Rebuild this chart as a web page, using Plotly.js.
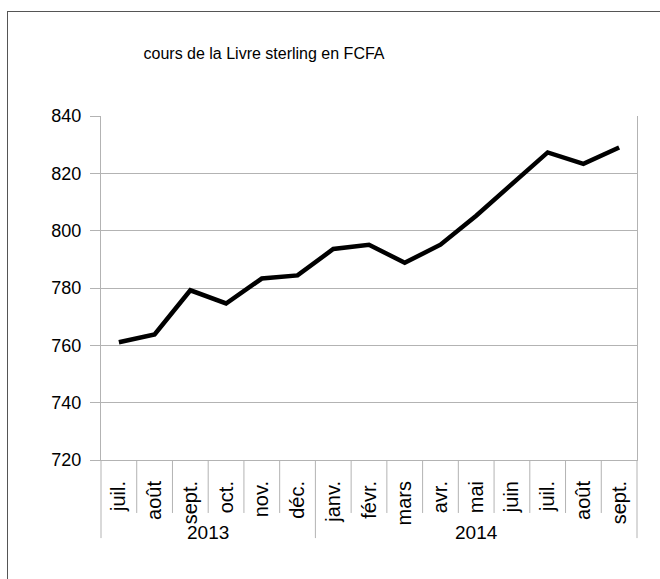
<!DOCTYPE html>
<html>
<head>
<meta charset="utf-8">
<script src="https://cdn.plot.ly/plotly-3.0.1.min.js"></script>
<style>
  html, body { margin: 0; padding: 0; background: #fff; overflow: hidden; }
  #wrap { position: relative; width: 660px; height: 579px; overflow: hidden; }
  #chart { position: absolute; left: 0; top: 0; width: 660px; height: 579px; }
  #frame { position: absolute; left: 7px; top: 11px; width: 700px; height: 700px;
           border: 1px solid #555; box-sizing: border-box; pointer-events: none; }
</style>
</head>
<body>
<div id="wrap">
  <div id="chart"></div>
  <div id="frame"></div>
</div>
<script>
// ---- data ----
const chartTitle = 'cours de la Livre sterling en FCFA';
const monthLabels = ['juil.', 'août', 'sept.', 'oct.', 'nov.', 'déc.',
                     'janv.', 'févr.', 'mars', 'avr.', 'mai', 'juin', 'juil.', 'août', 'sept.'];
const yearLabels = ['2013', '2014'];
const yearCounts = [6, 9];
const rateValues = [761.1, 763.8, 779.2, 774.6, 783.3, 784.4, 793.6, 795.1,
                    788.8, 795.1, 805.2, 816.2, 827.3, 823.3, 829.0];
const yTickValues = [720, 740, 760, 780, 800, 820, 840];

// ---- build ----
const n = monthLabels.length;
const idx = monthLabels.map((_, i) => i);
const gridColor = '#b3b3b3';
const font = 'Liberation Sans, Arial, sans-serif';

// year group boundaries (in category index)
const yearBounds = [0];
yearCounts.forEach(c => yearBounds.push(yearBounds[yearBounds.length - 1] + c));

const shapes = [];
for (let k = 0; k <= n; k++) {
  const isYear = yearBounds.includes(k);
  shapes.push({
    type: 'line', xref: 'paper', yref: 'paper',
    x0: k / n, x1: k / n, y0: 0, y1: isYear ? -0.227 : -0.154,
    line: { color: gridColor, width: 1 }
  });
}

const annotations = yearLabels.map((y, j) => ({
  text: y, xref: 'x', yref: 'paper',
  x: (yearBounds[j] + yearBounds[j + 1] - 1) / 2, y: -0.212,
  xanchor: 'center', yanchor: 'middle', showarrow: false,
  font: { family: font, size: 19, color: '#000' }
}));

const trace = {
  x: idx, y: rateValues, type: 'scatter', mode: 'lines',
  line: { color: '#000', width: 4.5 },
  hoverinfo: 'skip'
};

const layout = {
  width: 660, height: 579,
  margin: { l: 101, r: 23, t: 116, b: 119 },
  paper_bgcolor: '#fff', plot_bgcolor: '#fff',
  showlegend: false,
  title: {
    text: chartTitle, xref: 'container', yref: 'container',
    x: 0.4, y: 0.908, xanchor: 'center', yanchor: 'middle',
    font: { family: font, size: 16, color: '#000' }
  },
  xaxis: {
    range: [-0.5, n - 0.5],
    tickmode: 'array', tickvals: idx, ticktext: monthLabels,
    tickangle: -90, ticks: '', ticklabelstandoff: 12,
    tickfont: { family: font, size: 20, color: '#000' },
    showgrid: false, zeroline: false,
    showline: true, linecolor: gridColor, linewidth: 1, mirror: false,
    fixedrange: true
  },
  yaxis: {
    range: [720, 840],
    tickmode: 'array', tickvals: yTickValues,
    ticks: 'outside', ticklen: 10, tickcolor: gridColor, tickwidth: 1,
    ticklabelstandoff: 5,
    tickfont: { family: font, size: 18, color: '#000' },
    showgrid: true, gridcolor: gridColor, gridwidth: 1,
    zeroline: false,
    showline: true, linecolor: gridColor, linewidth: 1, mirror: true,
    fixedrange: true
  },
  shapes: shapes,
  annotations: annotations
};

Plotly.newPlot('chart', [trace], layout, { staticPlot: true, displayModeBar: false });
</script>
</body>
</html>
